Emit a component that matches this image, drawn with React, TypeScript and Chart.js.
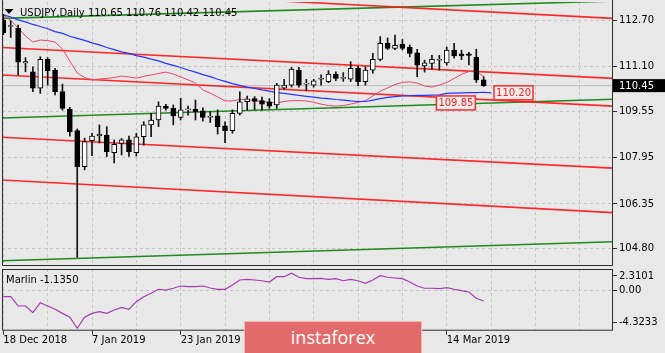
import React, { useEffect, useRef } from 'react';
import { Chart, registerables } from 'chart.js';

Chart.register(...registerables);

const FONT_FAMILY = "'DejaVu Sans', 'Liberation Sans', sans-serif";
const BG = '#e8e8e8';
const GRID = '#c4c4c4';
const FRAME = '#2e2e2e';

Chart.defaults.font.family = FONT_FAMILY;
Chart.defaults.font.size = 10;
Chart.defaults.color = '#000';

// ---- data ----
const symbolTitle = 'USDJPY,Daily';
const titleValues = ['110.65', '110.76', '110.42', '110.45'];
const indicatorName = 'Marlin';
const indicatorValue = '-1.1350';

const opens = [
  112.72, 112.50, 112.44, 111.24, 110.93, 110.36, 111.36, 110.99, 110.24, 109.64,
  108.89, 107.64, 108.54, 108.72, 108.74, 108.13, 108.45, 108.57, 108.13, 108.68,
  109.09, 109.26, 109.74, 109.66, 109.35, 109.61, 109.63, 109.58, 109.35, 109.40,
  109.06, 108.89, 109.49, 109.89, 110.00, 109.93, 109.89, 109.78, 110.36, 110.47,
  110.99, 110.50, 110.47, 110.67, 110.59, 110.85, 110.70, 110.67, 111.05, 110.59,
  110.99, 111.36, 111.92, 111.74, 111.89, 111.78, 111.59, 111.13, 111.22, 111.33,
  111.24, 111.68, 111.55, 111.55, 111.43, 110.65,
];
const highs = [
  112.92, 112.70, 112.55, 111.42, 111.10, 111.45, 111.42, 111.05, 110.50, 109.70,
  108.95, 108.63, 108.80, 109.09, 109.03, 108.57, 108.62, 108.70, 108.80, 109.20,
  109.49, 109.89, 109.80, 109.78, 110.01, 109.74, 109.95, 109.68, 109.55, 109.61,
  109.20, 109.61, 110.24, 110.09, 110.07, 110.05, 110.00, 110.53, 110.67, 111.08,
  111.08, 110.67, 110.67, 110.82, 110.97, 110.93, 110.90, 111.28, 111.12, 111.10,
  111.57, 112.15, 112.10, 112.20, 112.05, 111.86, 111.71, 111.33, 111.50, 111.50,
  111.79, 111.92, 111.68, 111.60, 111.71, 110.76,
];
const lows = [
  112.22, 112.12, 110.82, 110.93, 110.24, 110.18, 110.47, 110.13, 109.60, 108.70,
  104.50, 107.53, 108.02, 108.46, 107.99, 107.77, 108.05, 108.00, 108.01, 108.39,
  108.68, 109.03, 109.60, 109.09, 109.26, 109.43, 109.26, 109.22, 109.17, 108.77,
  108.47, 108.80, 109.43, 109.60, 109.62, 109.60, 109.66, 109.66, 110.32, 110.40,
  110.40, 110.27, 110.40, 110.47, 110.55, 110.62, 110.60, 110.59, 110.45, 110.47,
  110.88, 111.31, 111.70, 111.70, 111.69, 111.45, 110.76, 110.92, 111.02, 110.99,
  111.16, 111.40, 111.35, 111.17, 110.56, 110.42,
];
const closes = [
  112.28, 112.53, 111.26, 111.28, 110.36, 111.36, 110.97, 110.24, 109.66, 108.85,
  107.64, 108.51, 108.70, 108.76, 108.16, 108.42, 108.57, 108.16, 108.68, 109.09,
  109.26, 109.74, 109.66, 109.40, 109.61, 109.62, 109.55, 109.35, 109.36, 109.03,
  108.89, 109.49, 109.89, 109.99, 109.90, 109.81, 109.74, 110.47, 110.47, 111.02,
  110.47, 110.51, 110.62, 110.68, 110.85, 110.70, 110.71, 111.05, 110.59, 110.99,
  111.36, 111.92, 111.74, 111.85, 111.74, 111.57, 111.16, 111.24, 111.36, 111.36,
  111.68, 111.48, 111.48, 111.50, 110.65, 110.45,
];

const blueMA = [
  112.90, 112.83, 112.73, 112.66, 112.57, 112.50, 112.42, 112.32, 112.26, 112.16,
  112.09, 112.02, 111.93, 111.86, 111.77, 111.70, 111.62, 111.57, 111.49, 111.44,
  111.37, 111.31, 111.22, 111.15, 111.08, 110.99, 110.92, 110.83, 110.76, 110.67,
  110.60, 110.52, 110.46, 110.40, 110.35, 110.30, 110.26, 110.21, 110.18, 110.15,
  110.11, 110.08, 110.05, 110.02, 110.00, 109.97, 109.95, 109.92, 109.90, 109.90,
  109.95, 110.00, 110.04, 110.07, 110.09, 110.10, 110.11, 110.11, 110.12, 110.13,
  110.18, 110.19, 110.20, 110.21, 110.21, 110.22, 110.20,
];
const redMA = [
  112.90, 112.71, 112.45, 112.17, 111.96, 112.03, 112.01, 111.96, 111.72, 111.30,
  110.89, 110.73, 110.65, 110.68, 110.70, 110.73, 110.78, 110.75, 110.71, 110.77,
  110.82, 110.87, 110.92, 110.85, 110.75, 110.65, 110.54, 110.30, 110.19, 110.06,
  109.92, 109.92, 109.97, 109.97, 109.93, 109.90, 109.87, 109.85, 109.90, 109.93,
  109.93, 109.92, 109.87, 109.81, 109.76, 109.74, 109.76, 109.81, 109.87, 109.93,
  110.09, 110.26, 110.37, 110.49, 110.56, 110.58, 110.54, 110.44, 110.40, 110.47,
  110.56, 110.70, 110.84, 110.94, 110.94, 110.77,
];
const marlin = [
  -0.67, -0.67, -1.67, -1.67, -2.39, -1.31, -1.67, -2.02, -2.46, -2.88,
  -4.06, -2.88, -2.46, -2.28, -2.46, -2.10, -1.81, -2.02, -1.20, -0.67,
  -0.30, 0.13, 0.05, 0.24, 0.48, 0.41, 0.41, 0.48, 0.27, 0.13,
  0.13, 0.59, 1.13, 1.20, 1.13, 1.05, 0.91, 1.48, 1.48, 1.85,
  1.42, 1.27, 1.27, 1.31, 1.20, 1.27, 1.05, 1.20, 1.05, 0.77,
  1.13, 1.59, 1.42, 1.34, 1.27, 0.91, 0.48, 0.24, 0.24, 0.19,
  0.30, 0.13, -0.02, -0.16, -0.84, -1.135,
];

const priceTicks = [104.8, 106.35, 107.95, 109.55, 111.1, 112.7];
const gridIdx = [0, 6, 12, 18, 24, 30, 36, 42, 48, 54, 60, 66, 72, 78];
const dateTickIdx = [0, 12, 24, 36, 48, 60];
const dateTickLabels = ['18 Dec 2018', '7 Jan 2019', '23 Jan 2019', '8 Feb 2019', '26 Feb 2019', '14 Mar 2019'];

const MARLIN_MIN = -4.3233;
const MARLIN_MAX = 2.3101;
// labels of the sub window: extreme labels sit just inside the window
const marlinTickValues = [-3.46, 0, 1.56];
const marlinTickLabels = ['-4.3233', '0.00', '2.3101'];

const trendX = [-0.18, 82.5];
const redStart = [113.89, 111.77, 110.82, 108.66, 107.18];
const redEnd = [112.78, 110.70, 109.74, 107.59, 106.05];
const greenStart = [112.78, 109.33, 104.38];
const greenEnd = [113.38, 109.98, 105.04];

const bidPrice = 110.45;
const levelLabels = ['110.20', '109.85'];
const levelPrices = [110.2, 109.85];
const levelIdx = [66.4, 58.6];

const X_MIN = -0.18;
const X_MAX = 82.5;
const PRICE_MIN = 104.2;
const PRICE_MAX = 113.348;

function lineSet(data: any[], color: string, width: number, order: number) {
  return {
    type: 'line',
    data,
    borderColor: color,
    borderWidth: width,
    pointRadius: 0,
    pointHoverRadius: 0,
    tension: 0,
    fill: false,
    order,
  };
}

const noPad = (s: any) => {
  s.paddingTop = 0;
  s.paddingBottom = 0;
  s.paddingLeft = 0;
  s.paddingRight = 0;
};

const mainOverlay = {
  id: 'mainOverlay',
  afterDraw(chart: any) {
    const { ctx, chartArea: a, scales } = chart;
    ctx.save();
    // frame
    ctx.strokeStyle = FRAME;
    ctx.lineWidth = 1;
    ctx.beginPath();
    ctx.moveTo(a.left + 0.5, 0);
    ctx.lineTo(a.left + 0.5, a.bottom - 0.5);
    ctx.lineTo(a.right - 0.5, a.bottom - 0.5);
    ctx.lineTo(a.right - 0.5, 0);
    ctx.stroke();

    ctx.font = `10px ${FONT_FAMILY}`;
    ctx.textAlign = 'left';
    ctx.textBaseline = 'middle';
    // level labels
    levelLabels.forEach((t, k) => {
      const x = scales.x.getPixelForValue(levelIdx[k]);
      const y = scales.y.getPixelForValue(levelPrices[k]);
      const w = ctx.measureText(t).width + 4;
      ctx.fillStyle = '#ededed';
      ctx.fillRect(x, y - 7, w, 14);
      ctx.strokeStyle = '#ff2a2a';
      ctx.lineWidth = 1.5;
      ctx.strokeRect(x, y - 7, w, 14);
      ctx.fillStyle = '#ff2020';
      ctx.fillText(t, x + 2, y + 0.5);
    });
    // bid box on the axis
    const yb = scales.y.getPixelForValue(bidPrice);
    ctx.fillStyle = '#000';
    ctx.fillRect(a.right, yb - 6.5, 52, 13);
    ctx.fillStyle = '#fff';
    ctx.fillText(bidPrice.toFixed(2), a.right + 6, yb + 0.5);

    // title
    ctx.fillStyle = '#000';
    ctx.beginPath();
    ctx.moveTo(4.5, 9);
    ctx.lineTo(13.5, 9);
    ctx.lineTo(9, 14);
    ctx.closePath();
    ctx.fill();
    ctx.textBaseline = 'alphabetic';
    ctx.fillText(`${symbolTitle} ${titleValues.join(' ')}`, 20, 15.5);
    ctx.restore();
  },
};

const subOverlay = {
  id: 'subOverlay',
  afterDraw(chart: any) {
    const { ctx, chartArea: a } = chart;
    ctx.save();
    ctx.strokeStyle = FRAME;
    ctx.lineWidth = 1;
    ctx.strokeRect(a.left + 0.5, a.top + 0.5, a.right - a.left - 1, a.bottom - a.top - 1);
    ctx.font = `10px ${FONT_FAMILY}`;
    ctx.fillStyle = '#000';
    ctx.textAlign = 'left';
    ctx.textBaseline = 'alphabetic';
    ctx.fillText(`${indicatorName} ${indicatorValue}`, 6, 17.3);
    ctx.restore();
  },
};

export default function App() {
  const mainRef = useRef<HTMLCanvasElement | null>(null);
  const subRef = useRef<HTMLCanvasElement | null>(null);

  useEffect(() => {
    const idx = opens.map((_, i) => i);
    const datasets: any[] = [];
    datasets.push({
      type: 'bar',
      data: idx.map((i) => ({ x: i, y: [opens[i], closes[i]] })),
      backgroundColor: (c: any) => (closes[c.dataIndex] >= opens[c.dataIndex] ? '#ffffff' : '#000000'),
      borderColor: '#000',
      borderWidth: 1,
      borderSkipped: false,
      barThickness: 5,
      minBarLength: 1,
      grouped: false,
      order: 0,
    });
    datasets.push({
      type: 'bar',
      data: idx.map((i) => ({ x: i, y: [lows[i], highs[i]] })),
      backgroundColor: '#111',
      borderWidth: 0,
      barThickness: 1,
      grouped: false,
      order: 1,
    });
    datasets.push(lineSet(blueMA.map((v, i) => ({ x: i, y: v })), '#2236ff', 1.2, 3));
    datasets.push(lineSet(redMA.map((v, i) => ({ x: i, y: v })), '#e8466a', 1, 3));
    redStart.forEach((s, k) => {
      datasets.push(lineSet([{ x: trendX[0], y: s }, { x: trendX[1], y: redEnd[k] }], 'rgba(255,20,20,0.9)', 1.6, 4));
    });
    greenStart.forEach((s, k) => {
      datasets.push(lineSet([{ x: trendX[0], y: s }, { x: trendX[1], y: greenEnd[k] }], '#1f8a1f', 1.6, 4));
    });
    datasets.push(lineSet([{ x: X_MIN, y: bidPrice }, { x: X_MAX, y: bidPrice }], '#bcbcbc', 1, 10));

    const main = new Chart(mainRef.current as HTMLCanvasElement, {
      type: 'bar',
      data: { datasets },
      options: {
        responsive: false,
        animation: false,
        devicePixelRatio: 1,
        events: [],
        layout: { padding: { left: 2, top: 2, right: 0, bottom: 0 }, autoPadding: false },
        plugins: { legend: { display: false }, tooltip: { enabled: false }, title: { display: false } },
        scales: {
          x: {
            type: 'linear',
            min: X_MIN,
            max: X_MAX,
            offset: false,
            afterBuildTicks: (s: any) => { s.ticks = gridIdx.map((v) => ({ value: v })); },
            ticks: { display: false },
            grid: { color: GRID, drawTicks: false, offset: false, lineWidth: 1 },
            border: { display: false, dash: [3, 3] },
            afterFit: (s: any) => { s.height = 0; noPad(s); },
          },
          y: {
            type: 'linear',
            position: 'right',
            min: PRICE_MIN,
            max: PRICE_MAX,
            afterBuildTicks: (s: any) => { s.ticks = priceTicks.map((v) => ({ value: v })); },
            ticks: { callback: (v: any) => Number(v).toFixed(2), color: '#000', padding: 2, font: { size: 10, family: FONT_FAMILY } },
            grid: { color: GRID, tickColor: FRAME, tickLength: 4, tickBorderDash: [], offset: false },
            border: { display: false, dash: [3, 3] },
            afterFit: (s: any) => { s.width = 52; noPad(s); },
          },
        },
      } as any,
      plugins: [mainOverlay],
    } as any);

    const sub = new Chart(subRef.current as HTMLCanvasElement, {
      type: 'line',
      data: {
        datasets: [lineSet(marlin.map((v, i) => ({ x: i, y: v })), '#a43cb0', 1.2, 0)],
      },
      options: {
        responsive: false,
        animation: false,
        devicePixelRatio: 1,
        events: [],
        layout: { padding: { left: 2, top: 3, right: 0, bottom: 0 }, autoPadding: false },
        plugins: { legend: { display: false }, tooltip: { enabled: false } },
        scales: {
          x: {
            type: 'linear',
            min: X_MIN,
            max: X_MAX,
            offset: false,
            afterBuildTicks: (s: any) => { s.ticks = gridIdx.map((v) => ({ value: v })); },
            ticks: {
              callback: (v: any) => {
                const k = dateTickIdx.indexOf(Number(v));
                return k >= 0 ? dateTickLabels[k] : '';
              },
              align: 'start',
              maxRotation: 0,
              minRotation: 0,
              autoSkip: false,
              padding: 0,
              color: '#000',
              font: { size: 10, family: FONT_FAMILY },
            },
            grid: {
              color: GRID,
              offset: false,
              tickLength: 4,
              tickBorderDash: [],
              tickColor: (c: any) => (c.tick && dateTickIdx.includes(c.tick.value) ? FRAME : 'rgba(0,0,0,0)'),
            },
            border: { display: false, dash: [3, 3] },
            afterFit: (s: any) => { s.height = 22.3; noPad(s); },
          },
          y: {
            type: 'linear',
            position: 'right',
            min: MARLIN_MIN,
            max: MARLIN_MAX,
            afterBuildTicks: (s: any) => { s.ticks = marlinTickValues.map((v) => ({ value: v })); },
            ticks: { callback: (_v: any, i: number) => marlinTickLabels[i], color: '#000', padding: 2, font: { size: 10, family: FONT_FAMILY } },
            grid: {
              color: (c: any) => (c.tick && c.tick.value === 0 ? GRID : 'rgba(0,0,0,0)'),
              tickColor: FRAME,
              tickLength: 4,
              tickBorderDash: [],
            },
            border: { display: false, dash: [3, 3] },
            afterFit: (s: any) => { s.width = 52; noPad(s); },
          },
        },
      } as any,
      plugins: [subOverlay],
    } as any);

    return () => {
      main.destroy();
      sub.destroy();
    };
  }, []);

  return (
    <div style={{ position: 'fixed', left: 0, top: 0, width: 665, height: 353, background: BG, overflow: 'hidden' }}>
      <canvas ref={mainRef} width={665} height={266} style={{ position: 'absolute', left: 0, top: 0, display: 'block' }} />
      <canvas ref={subRef} width={665} height={87} style={{ position: 'absolute', left: 0, top: 266, display: 'block' }} />
      <div
        style={{
          position: 'absolute',
          left: 244,
          top: 321,
          width: 178,
          height: 34,
          boxSizing: 'border-box',
          background: '#e36a6a',
          border: '1px solid #f2b6b6',
          color: '#fff',
          fontFamily: "'Open Sans', sans-serif",
          fontSize: 18,
          lineHeight: '30px',
          textAlign: 'center',
        }}
      >
        instaforex
      </div>
    </div>
  );
}
